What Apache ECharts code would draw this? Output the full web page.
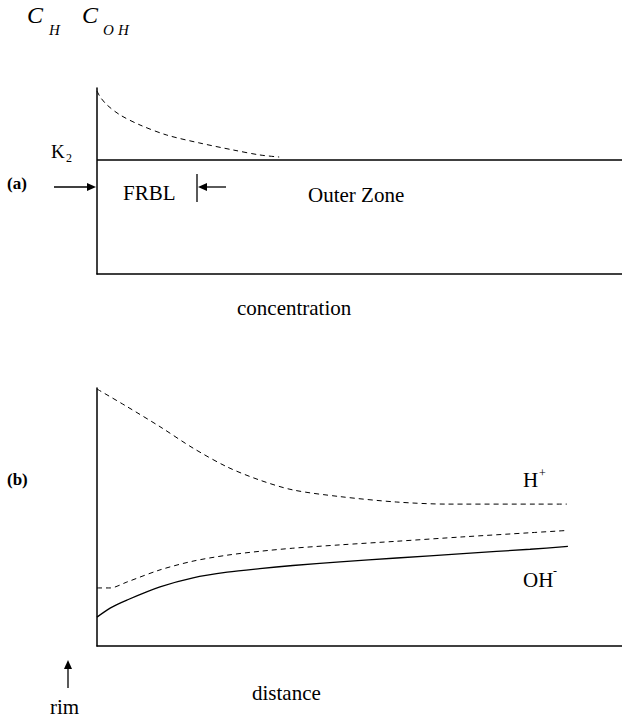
<!DOCTYPE html>
<html>
<head>
<meta charset="utf-8">
<script src="https://cdn.jsdelivr.net/npm/echarts@6/dist/echarts.min.js"></script>
<style>
  html, body { margin: 0; padding: 0; background: #fff; }
  #chart { width: 622px; height: 717px; }
</style>
</head>
<body>
<div id="chart"></div>
<script>
  // panel (a): surface concentration profile vs K2 level
  var surfDist = [0, 0.6, 1.9, 4.4, 8.2, 13.3, 19.6, 25.9, 31, 34.7]
  var surfConc = [98.4, 95.2, 90.9, 85.5, 80.1, 74.7, 70.4, 66.7, 64, 62.9]
  var k2Level = 61.3

  // panel (b): H+ and OH- profiles vs distance from rim
  var hDist = [0, 5.7, 12, 18.3, 24.8, 31, 37.3, 46.3, 57.1, 66.7, 89.5]
  var hConc = [99.6, 92.8, 85, 76.7, 69.4, 64.3, 60.5, 57.9, 55.8, 55, 55]
  var midDist = [0, 2.5, 5.7, 12, 18.3, 24.8, 31, 37.3, 46.3, 57.1, 69.7, 82.5, 89.7]
  var midConc = [22.5, 22.5, 24.8, 29.5, 32.9, 35.2, 36.7, 37.9, 39.2, 40.6, 42.3, 43.9, 44.8]
  var ohDist = [0, 2.5, 5.7, 12, 18.3, 24.8, 31, 37.3, 46.3, 57.1, 69.7, 82.5, 89.7]
  var ohConc = [11.2, 14.7, 17.8, 22.9, 26.4, 28.6, 30.0, 31.2, 32.6, 34.1, 35.8, 37.5, 38.6]

  function pairs(xs, ys) {
    return xs.map(function (x, i) { return [x, ys[i]] })
  }

  var serif = '"Liberation Serif", "Times New Roman", serif'

  function txt(text, x, y, size, opts) {
    opts = opts || {}
    return {
      type: 'text',
      x: x,
      y: y,
      style: {
        text: text,
        font: (opts.style || '') + ' ' + (opts.weight || 'normal') + ' ' + size + 'px ' + serif,
        fill: '#000',
        textAlign: opts.align || 'left',
        align: opts.align || 'left',
        textVerticalAlign: 'bottom',
        verticalAlign: 'bottom'
      }
    }
  }

  function hArrow(x1, x2, y) {
    // arrow pointing from x1 to x2
    var dir = x2 > x1 ? 1 : -1
    return [
      { type: 'line', shape: { x1: x1, y1: y, x2: x2 - dir * 7, y2: y }, style: { stroke: '#000', lineWidth: 1.3 } },
      { type: 'polygon', shape: { points: [[x2, y], [x2 - dir * 9, y - 4], [x2 - dir * 9, y + 4]] }, style: { fill: '#000' } }
    ]
  }

  var axisLine = { show: true, onZero: false, lineStyle: { color: '#000', width: 1.5 } }
  function valAxis(idx) {
    return {
      type: 'value', gridIndex: idx, min: 0, max: 100,
      axisLine: axisLine, axisTick: { show: false }, axisLabel: { show: false }, splitLine: { show: false }
    }
  }

  var chart = echarts.init(document.getElementById('chart'), null, { renderer: 'svg' })

  var graphics = [
    txt('C', 27, 27, 24, { style: 'italic' }),
    txt('H', 49, 37, 15, { style: 'italic' }),
    txt('C', 82, 27, 24, { style: 'italic' }),
    txt('O', 103, 37, 15, { style: 'italic' }),
    txt('H', 118, 37, 15, { style: 'italic' }),
    txt('K', 51, 161, 19),
    txt('2', 66, 164, 12),
    txt('(a)', 7, 192, 17, { weight: 'bold' }),
    txt('FRBL', 123, 203, 21),
    txt('Outer Zone', 308, 205, 21),
    txt('concentration', 237, 318, 21),
    txt('(b)', 7, 488, 17, { weight: 'bold' }),
    txt('H', 523, 490, 21),
    txt('+', 539, 479, 12),
    txt('OH', 523, 590, 21),
    txt('-', 553, 577, 12),
    txt('distance', 252, 703, 21),
    txt('rim', 50, 717, 21),
    { type: 'line', shape: { x1: 197, y1: 174, x2: 197, y2: 202 }, style: { stroke: '#000', lineWidth: 1.3 } },
    { type: 'line', shape: { x1: 68, y1: 688, x2: 68, y2: 668 }, style: { stroke: '#000', lineWidth: 1.3 } },
    { type: 'polygon', shape: { points: [[68, 660], [64, 669], [72, 669]] }, style: { fill: '#000' } }
  ].concat(hArrow(54, 96, 187)).concat(hArrow(226, 198, 187))

  chart.setOption({
    animation: false,
    backgroundColor: '#fff',
    grid: [
      { left: 97, right: 0, top: 88, height: 186 },
      { left: 97, right: 0, top: 388, height: 258 }
    ],
    xAxis: [valAxis(0), valAxis(1)],
    yAxis: [valAxis(0), valAxis(1)],
    graphic: graphics,
    series: [
      {
        name: 'surface', type: 'line', xAxisIndex: 0, yAxisIndex: 0,
        smooth: 0.3, showSymbol: false,
        lineStyle: { color: '#000', width: 1, type: [5, 4] },
        data: pairs(surfDist, surfConc)
      },
      {
        name: 'K2', type: 'line', xAxisIndex: 0, yAxisIndex: 0,
        showSymbol: false,
        lineStyle: { color: '#000', width: 1.5 },
        data: [[0, k2Level], [100, k2Level]]
      },
      {
        name: 'H+', type: 'line', xAxisIndex: 1, yAxisIndex: 1,
        smooth: 0.3, showSymbol: false,
        lineStyle: { color: '#000', width: 1, type: [5, 4] },
        data: pairs(hDist, hConc)
      },
      {
        name: 'mid', type: 'line', xAxisIndex: 1, yAxisIndex: 1,
        smooth: 0.3, showSymbol: false,
        lineStyle: { color: '#000', width: 1, type: [5, 4] },
        data: pairs(midDist, midConc)
      },
      {
        name: 'OH-', type: 'line', xAxisIndex: 1, yAxisIndex: 1,
        smooth: 0.3, showSymbol: false,
        lineStyle: { color: '#000', width: 1.3 },
        data: pairs(ohDist, ohConc)
      }
    ]
  })
</script>
</body>
</html>
